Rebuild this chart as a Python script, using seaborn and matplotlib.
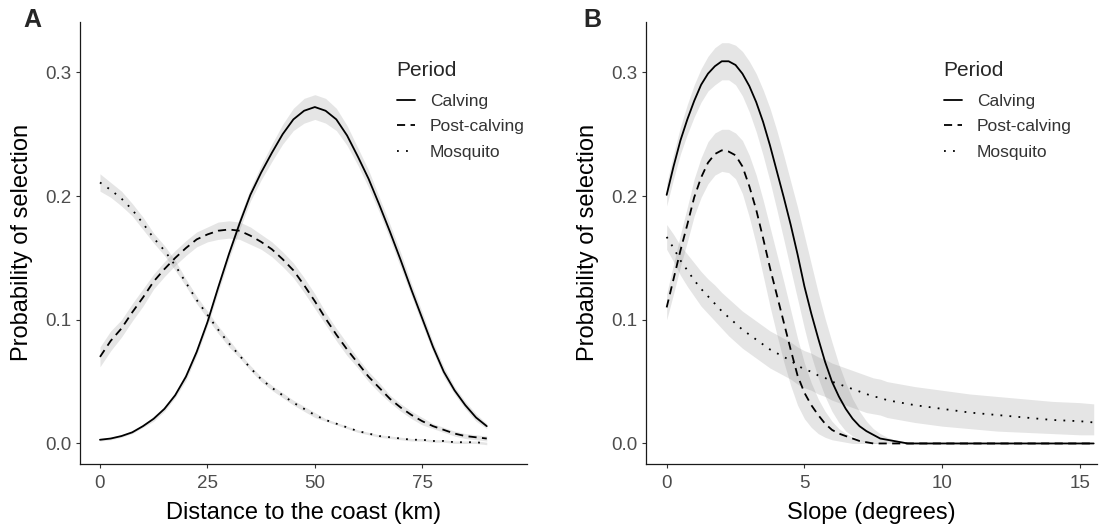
import numpy as np
import pandas as pd
import matplotlib
matplotlib.use("Agg")
import matplotlib.pyplot as plt
from matplotlib.lines import Line2D
import seaborn as sns

sns.set_theme(style="ticks")
plt.rcParams['font.family'] = ['Liberation Sans', 'DejaVu Sans']

PERIODS = ["Calving", "Post-calving", "Mosquito"]
DASHES = {"Calving": "", "Post-calving": (4.5, 3), "Mosquito": (1, 4)}
LINE_W = 1.3

# ---- Panel A: distance to the coast (km) ----
dist_km = [0, 2.5, 5, 7.5, 10, 12.5, 15, 17.5, 20, 22.5, 25, 27.5, 30, 32.5, 35, 37.5,
           40, 42.5, 45, 47.5, 50, 52.5, 55, 57.5, 60, 62.5, 65, 67.5, 70, 72.5, 75,
           77.5, 80, 82.5, 85, 87.5, 90]
dist_calving = [0.003, 0.004, 0.006, 0.009, 0.014, 0.020, 0.028, 0.039, 0.054, 0.074,
                0.098, 0.126, 0.153, 0.178, 0.201, 0.219, 0.235, 0.250, 0.262, 0.269,
                0.272, 0.269, 0.262, 0.249, 0.232, 0.214, 0.193, 0.171, 0.148, 0.124,
                0.101, 0.078, 0.058, 0.043, 0.031, 0.021, 0.014]
dist_calving_hw = [0.001, 0.001, 0.001, 0.001, 0.001, 0.002, 0.002, 0.002, 0.003, 0.003,
                   0.003, 0.004, 0.004, 0.005, 0.005, 0.006, 0.007, 0.008, 0.009, 0.010,
                   0.010, 0.010, 0.009, 0.008, 0.007, 0.007, 0.006, 0.006, 0.006, 0.005,
                   0.005, 0.004, 0.004, 0.003, 0.003, 0.003, 0.002]
dist_post = [0.070, 0.083, 0.093, 0.106, 0.118, 0.131, 0.141, 0.150, 0.158, 0.165,
             0.169, 0.172, 0.173, 0.172, 0.168, 0.163, 0.157, 0.149, 0.140, 0.128,
             0.115, 0.101, 0.088, 0.076, 0.065, 0.054, 0.045, 0.036, 0.029, 0.023,
             0.018, 0.014, 0.011, 0.008, 0.006, 0.005, 0.004]
dist_post_hw = [0.008, 0.008, 0.007, 0.007, 0.007, 0.006, 0.006, 0.006, 0.006, 0.006,
                0.006, 0.007, 0.007, 0.007, 0.007, 0.006, 0.006, 0.006, 0.006, 0.006,
                0.006, 0.005, 0.005, 0.005, 0.004, 0.004, 0.004, 0.003, 0.003, 0.003,
                0.003, 0.002, 0.002, 0.002, 0.002, 0.002, 0.002]
dist_mosq = [0.211, 0.205, 0.198, 0.189, 0.178, 0.166, 0.156, 0.144, 0.130, 0.116,
             0.104, 0.092, 0.081, 0.071, 0.061, 0.052, 0.045, 0.039, 0.033, 0.028,
             0.023, 0.019, 0.016, 0.013, 0.010, 0.008, 0.006, 0.005, 0.004, 0.003,
             0.003, 0.002, 0.002, 0.001, 0.001, 0.001, 0.000]
dist_mosq_hw = [0.007, 0.006, 0.006, 0.005, 0.005, 0.004, 0.004, 0.004, 0.003, 0.003,
                0.003, 0.003, 0.003, 0.002, 0.002, 0.002, 0.002, 0.002, 0.002, 0.002,
                0.002, 0.001, 0.001, 0.001, 0.001, 0.001, 0.001, 0.001, 0.001, 0.001,
                0.001, 0.001, 0.001, 0.001, 0.001, 0.001, 0.001]

# ---- Panel B: slope (degrees) ----
slope_deg = [0, 0.25, 0.5, 0.75, 1, 1.25, 1.5, 1.75, 2, 2.25, 2.5, 2.75, 3, 3.25, 3.5,
             3.75, 4, 4.25, 4.5, 4.75, 5, 5.25, 5.5, 5.75, 6, 6.25, 6.5, 6.75, 7, 7.25,
             7.5, 7.75, 8, 8.25, 8.5, 8.75, 9, 10, 11, 12, 13, 14, 15, 15.5]
slope_calving = [0.201, 0.224, 0.245, 0.262, 0.277, 0.290, 0.299, 0.305, 0.309, 0.309,
                 0.306, 0.299, 0.289, 0.276, 0.260, 0.241, 0.220, 0.199, 0.177, 0.153,
                 0.127, 0.105, 0.085, 0.066, 0.050, 0.038, 0.028, 0.020, 0.014, 0.010,
                 0.007, 0.004, 0.003, 0.002, 0.001, 0.000, 0.000, 0.000, 0.000, 0.000,
                 0.000, 0.000, 0.000, 0.000]
slope_calving_lo = [0.192, 0.214, 0.234, 0.250, 0.264, 0.276, 0.285, 0.290, 0.294, 0.294,
                    0.290, 0.281, 0.268, 0.252, 0.233, 0.212, 0.189, 0.165, 0.141, 0.117,
                    0.093, 0.071, 0.053, 0.038, 0.026, 0.017, 0.010, 0.006, 0.003, 0.001,
                    0.000, 0.000, 0.000, 0.000, 0.000, 0.000, 0.000, 0.000, 0.000, 0.000,
                    0.000, 0.000, 0.000, 0.000]
slope_calving_hi = [0.210, 0.234, 0.256, 0.274, 0.290, 0.303, 0.313, 0.320, 0.324, 0.324,
                    0.322, 0.317, 0.309, 0.299, 0.286, 0.271, 0.253, 0.233, 0.212, 0.191,
                    0.168, 0.145, 0.122, 0.101, 0.082, 0.064, 0.049, 0.036, 0.026, 0.018,
                    0.012, 0.008, 0.005, 0.003, 0.002, 0.001, 0.000, 0.000, 0.000, 0.000,
                    0.000, 0.000, 0.000, 0.000]
slope_post = [0.110, 0.133, 0.156, 0.177, 0.199, 0.215, 0.227, 0.234, 0.237, 0.236,
              0.233, 0.224, 0.208, 0.189, 0.166, 0.142, 0.120, 0.098, 0.076, 0.055,
              0.041, 0.031, 0.023, 0.016, 0.011, 0.008, 0.006, 0.004, 0.002, 0.001,
              0.000, 0.000, 0.000, 0.000, 0.000, 0.000, 0.000, 0.000, 0.000, 0.000,
              0.000, 0.000, 0.000, 0.000]
slope_post_lo = [0.100, 0.121, 0.143, 0.163, 0.184, 0.199, 0.210, 0.217, 0.220, 0.219,
                 0.214, 0.202, 0.183, 0.161, 0.136, 0.111, 0.088, 0.066, 0.047, 0.031,
                 0.020, 0.013, 0.008, 0.005, 0.003, 0.002, 0.001, 0.000, 0.000, 0.000,
                 0.000, 0.000, 0.000, 0.000, 0.000, 0.000, 0.000, 0.000, 0.000, 0.000,
                 0.000, 0.000, 0.000, 0.000]
slope_post_hi = [0.121, 0.145, 0.169, 0.191, 0.214, 0.231, 0.244, 0.251, 0.254, 0.254,
                 0.251, 0.245, 0.233, 0.217, 0.197, 0.175, 0.153, 0.131, 0.108, 0.085,
                 0.065, 0.049, 0.036, 0.026, 0.018, 0.012, 0.008, 0.005, 0.003, 0.002,
                 0.001, 0.000, 0.000, 0.000, 0.000, 0.000, 0.000, 0.000, 0.000, 0.000,
                 0.000, 0.000, 0.000, 0.000]
slope_mosq = [0.167, 0.158, 0.148, 0.140, 0.132, 0.125, 0.119, 0.113, 0.107, 0.102,
              0.097, 0.092, 0.088, 0.084, 0.080, 0.076, 0.073, 0.070, 0.067, 0.063,
              0.060, 0.058, 0.055, 0.053, 0.050, 0.048, 0.046, 0.044, 0.042, 0.040,
              0.038, 0.037, 0.035, 0.034, 0.033, 0.032, 0.031, 0.028, 0.025, 0.023,
              0.021, 0.019, 0.018, 0.017]
slope_mosq_lo = [0.157, 0.147, 0.136, 0.127, 0.119, 0.111, 0.105, 0.099, 0.093, 0.087,
                 0.082, 0.077, 0.073, 0.069, 0.065, 0.061, 0.058, 0.055, 0.052, 0.048,
                 0.045, 0.043, 0.040, 0.038, 0.035, 0.033, 0.031, 0.029, 0.027, 0.025,
                 0.024, 0.023, 0.021, 0.020, 0.019, 0.018, 0.017, 0.014, 0.012, 0.010,
                 0.009, 0.008, 0.007, 0.007]
slope_mosq_hi = [0.177, 0.169, 0.160, 0.153, 0.146, 0.139, 0.133, 0.128, 0.122, 0.117,
                 0.112, 0.107, 0.103, 0.099, 0.095, 0.091, 0.088, 0.085, 0.082, 0.078,
                 0.075, 0.073, 0.070, 0.068, 0.065, 0.063, 0.061, 0.059, 0.057, 0.055,
                 0.053, 0.052, 0.050, 0.049, 0.048, 0.047, 0.046, 0.043, 0.040, 0.038,
                 0.036, 0.034, 0.033, 0.032]

y_ticks = [0.0, 0.1, 0.2, 0.3]
y_tick_labels = ["0.0", "0.1", "0.2", "0.3"]
dist_ticks = [0, 25, 50, 75]
slope_ticks = [0, 5, 10, 15]

W, H = 1099, 528


def draw_panel(ax, x, curves, bands, xlim, xticks, xlabel):
    # confidence ribbons first, curves on top
    for period in PERIODS:
        lo, hi = bands[period]
        ax.fill_between(x, lo, hi, color="#7f7f7f", alpha=0.2, linewidth=0)

    df = pd.DataFrame({
        "x": np.tile(x, len(PERIODS)),
        "y": np.concatenate([curves[p] for p in PERIODS]),
        "Period": np.repeat(PERIODS, len(x)),
    })
    sns.lineplot(data=df, x="x", y="y", style="Period", style_order=PERIODS,
                 dashes=DASHES, color="black", linewidth=LINE_W, estimator=None,
                 legend=False, ax=ax)

    ax.set_xlim(*xlim)
    ax.set_ylim(-0.0166, 0.341)
    ax.set_xticks(xticks)
    ax.set_yticks(y_ticks)
    ax.set_yticklabels(y_tick_labels)
    ax.set_xlabel(xlabel, fontsize=17, color="black", labelpad=7.5)
    ax.set_ylabel("Probability of selection", fontsize=17, color="black", labelpad=9)
    ax.tick_params(axis="both", length=3, width=0.8, color="#333333",
                   labelsize=13.5, labelcolor="#4d4d4d", pad=3)
    ax.tick_params(axis="x", pad=4.8)
    for side in ["top", "right"]:
        ax.spines[side].set_visible(False)
    for side in ["left", "bottom"]:
        ax.spines[side].set_linewidth(0.9)
        ax.spines[side].set_color("#1a1a1a")
    ax.grid(False)


def add_legend(fig, left_px, top_px):
    handles = [Line2D([], [], color="black", linewidth=LINE_W,
                      linestyle=(0, DASHES[p]) if DASHES[p] else "-") for p in PERIODS]
    leg = fig.legend(handles, PERIODS, title="Period", loc="upper left",
                     bbox_to_anchor=(left_px / W, 1 - top_px / H), frameon=False,
                     borderpad=0, alignment="left", handlelength=1.05,
                     handletextpad=0.85, labelspacing=0.61, fontsize=12.5,
                     title_fontsize=15)
    # a bit more room between the title and the first key
    leg._legend_box.sep = 10
    for t in leg.get_texts():
        t.set_color("#333333")


fig = plt.figure(figsize=(W / 100, H / 100), dpi=100)
fig.patch.set_facecolor("white")

ax_a = fig.add_axes([80 / W, (H - 464) / H, 446.7 / W, 442.3 / H])
draw_panel(
    ax_a, dist_km,
    {"Calving": dist_calving, "Post-calving": dist_post, "Mosquito": dist_mosq},
    {"Calving": (np.subtract(dist_calving, dist_calving_hw), np.add(dist_calving, dist_calving_hw)),
     "Post-calving": (np.subtract(dist_post, dist_post_hw), np.add(dist_post, dist_post_hw)),
     "Mosquito": (np.subtract(dist_mosq, dist_mosq_hw), np.add(dist_mosq, dist_mosq_hw))},
    (-4.65, 99.3), dist_ticks, "Distance to the coast (km)")

ax_b = fig.add_axes([646 / W, (H - 464) / H, 451 / W, 442.3 / H])
draw_panel(
    ax_b, slope_deg,
    {"Calving": slope_calving, "Post-calving": slope_post, "Mosquito": slope_mosq},
    {"Calving": (slope_calving_lo, slope_calving_hi),
     "Post-calving": (slope_post_lo, slope_post_hi),
     "Mosquito": (slope_mosq_lo, slope_mosq_hi)},
    (-0.75, 15.62), slope_ticks, "Slope (degrees)")

add_legend(fig, 388, 52)
add_legend(fig, 935, 52)

fig.text(23 / W, 1 - 8 / H, "A", fontsize=18, fontweight="bold", va="top", ha="left")
fig.text(583 / W, 1 - 8 / H, "B", fontsize=18, fontweight="bold", va="top", ha="left")

fig.savefig("out.png", dpi=100, facecolor="white")
